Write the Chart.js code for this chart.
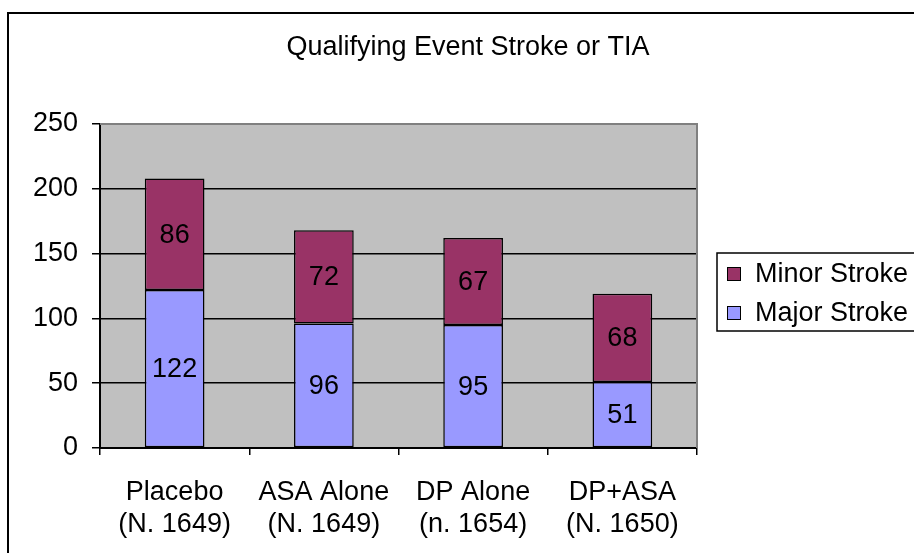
<!DOCTYPE html>
<html>
<head>
<meta charset="utf-8">
<script src="https://cdn.jsdelivr.net/npm/chart.js@4"></script>
<style>
  html, body { margin: 0; padding: 0; background: #fff; }
  #wrap { width: 914px; height: 553px; }
</style>
</head>
<body>
<div id="wrap"><canvas id="chart" width="914" height="553"></canvas></div>
<script>
const categories = [
  ['Placebo', '(N. 1649)'],
  ['ASA Alone', '(N. 1649)'],
  ['DP Alone', '(n. 1654)'],
  ['DP+ASA', '(N. 1650)']
];
const majorStroke = [122, 96, 95, 51];
const minorStroke = [86, 72, 67, 68];
const yTicks = [0, 50, 100, 150, 200, 250];
const chartTitle = 'Qualifying Event Stroke or TIA';

const FONT = '"Liberation Sans", Arial, sans-serif';
const FS = 27;

// plot background, border, title, labels, legend
const excelLook = {
  id: 'excelLook',
  beforeDraw(chart) {
    const { ctx, chartArea: a } = chart;
    ctx.save();
    ctx.fillStyle = '#c0c0c0';
    ctx.fillRect(a.left, a.top, a.right - a.left, a.bottom - a.top);
    ctx.restore();
  },
  afterDraw(chart) {
    const { ctx, chartArea: a } = chart;
    ctx.save();
    // plot top/right edge
    ctx.strokeStyle = '#808080';
    ctx.lineWidth = 2;
    ctx.beginPath();
    ctx.moveTo(a.left, a.top);
    ctx.lineTo(a.right, a.top);
    ctx.lineTo(a.right, a.bottom);
    ctx.stroke();

    // outer frame
    ctx.strokeStyle = '#000';
    ctx.lineWidth = 2;
    ctx.strokeRect(8, 13, 940, 600);

    // title
    ctx.fillStyle = '#000';
    ctx.font = FS + 'px ' + FONT;
    ctx.textAlign = 'center';
    ctx.textBaseline = 'middle';
    ctx.fillText(chartTitle, 468, 48);

    // value labels inside segments
    chart.data.datasets.forEach((ds, i) => {
      const meta = chart.getDatasetMeta(i);
      meta.data.forEach((bar, j) => {
        const mid = (bar.y + bar.base) / 2;
        ctx.fillText(String(ds.data[j]), bar.x, mid + 1);
      });
    });

    // legend (reverse order like Excel)
    const lx = 717, ly = 253, lw = 210, lh = 78;
    ctx.lineWidth = 1.5;
    ctx.strokeStyle = '#000';
    ctx.strokeRect(lx, ly, lw, lh);
    ctx.textAlign = 'left';
    const items = chart.data.datasets.slice().reverse();
    items.forEach((ds, k) => {
      const cy = ly + 21 + k * 39;
      ctx.fillStyle = ds.backgroundColor;
      ctx.fillRect(727, cy - 7, 14, 14);
      ctx.lineWidth = 1;
      ctx.strokeRect(727.5, cy - 6.5, 13, 13);
      ctx.fillStyle = '#000';
      ctx.fillText(ds.label, 755, cy + 1);
    });
    ctx.restore();
  }
};

new Chart(document.getElementById('chart'), {
  type: 'bar',
  data: {
    labels: categories,
    datasets: [
      {
        label: 'Major Stroke',
        data: majorStroke,
        backgroundColor: '#9999ff',
        borderColor: '#000',
        borderWidth: 1.5,
        borderSkipped: false,
        barPercentage: 0.4,
        categoryPercentage: 1
      },
      {
        label: 'Minor Stroke',
        data: minorStroke,
        backgroundColor: '#993366',
        borderColor: '#000',
        borderWidth: 1.5,
        borderSkipped: false,
        barPercentage: 0.4,
        categoryPercentage: 1
      }
    ]
  },
  options: {
    responsive: false,
    animation: false,
    layout: { padding: { left: 0, right: 217, top: 124, bottom: 0 } },
    plugins: {
      legend: { display: false },
      title: { display: false },
      tooltip: { enabled: false }
    },
    scales: {
      x: {
        stacked: true,
        afterFit(scale) { scale.height = 105; },
        grid: {
          offset: true,
          drawOnChartArea: false,
          color: '#000',
          tickLength: 7,
          lineWidth: 1.5
        },
        border: { color: '#000', width: 2 },
        ticks: {
          color: '#000',
          padding: 21,
          maxRotation: 0,
          font: { family: FONT, size: FS, lineHeight: 1.2 }
        }
      },
      y: {
        stacked: true,
        min: 0,
        max: 250,
        afterFit(scale) { scale.width = 100; },
        afterBuildTicks(scale) { scale.ticks = yTicks.map(v => ({ value: v })); },
        grid: {
          color: '#000',
          tickLength: 8,
          lineWidth: 1.5
        },
        border: { color: '#000', width: 2 },
        ticks: {
          color: '#000',
          padding: 14,
          font: { family: FONT, size: FS }
        }
      }
    }
  },
  plugins: [excelLook]
});
</script>
</body>
</html>
